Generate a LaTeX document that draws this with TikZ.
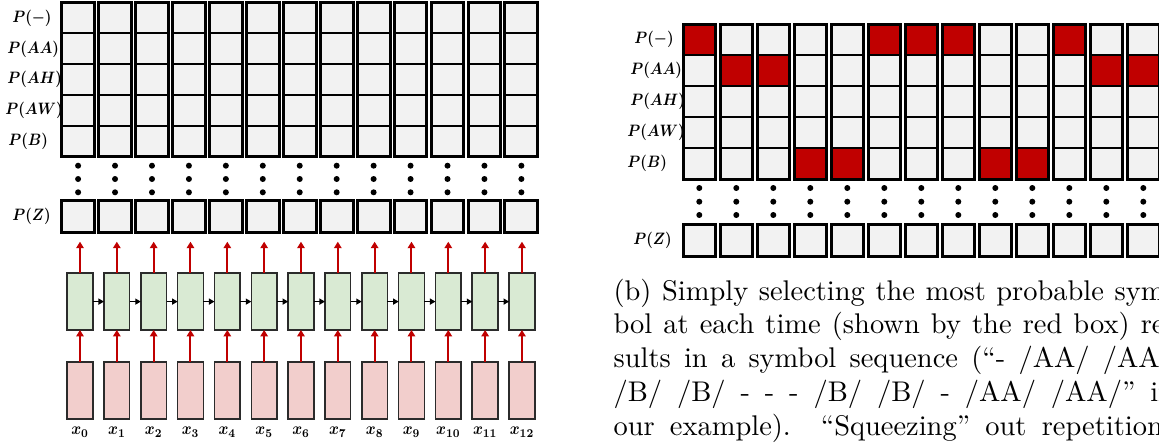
\documentclass[tikz,border=0pt]{standalone}
\usepackage{amsmath}
\usetikzlibrary{arrows.meta}

\definecolor{cellgray}{HTML}{F2F2F2}
\definecolor{pickred}{HTML}{C00000}
\definecolor{rnngreen}{HTML}{D9EAD3}
\definecolor{inpink}{HTML}{F2CECC}
\definecolor{boxedge}{HTML}{2B2B2B}

\tikzset{
  probcell/.style n args={2}{draw=black, line width=2pt, fill=cellgray,
    minimum width=#1, minimum height=#2, inner sep=0pt, outer sep=0pt,
    anchor=north west},
  colframe/.style={draw=black, line width=3pt},
  zcell/.style n args={2}{probcell={#1}{#2}, line width=3pt},
  rnnbox/.style={draw=boxedge, line width=1.6pt, fill=rnngreen,
    minimum width=25.7pt, minimum height=56.7pt, inner sep=0pt, outer sep=0pt},
  inbox/.style={draw=boxedge, line width=1.6pt, fill=inpink,
    minimum width=25.7pt, minimum height=56.7pt, inner sep=0pt, outer sep=0pt},
  upflow/.style={draw=pickred, line width=2pt,
    -{Triangle[length=6.5pt,width=7.5pt]}},
  timeflow/.style={draw=black, line width=1.3pt,
    -{Triangle[length=5.5pt,width=6pt]}},
  dotmark/.style={fill=black},
  rowlabel/.style={anchor=west, inner sep=0pt, xscale=1.47, yscale=1.65,
    font=\fontsize{10}{12}\selectfont},
  xlabel/.style={anchor=base, inner sep=0pt, xscale=1.5, yscale=1.7,
    font=\fontsize{10}{12}\selectfont},
  captiontext/.style={anchor=base west, inner sep=0pt, scale=2.845},
}

\begin{document}
\begin{tikzpicture}[x=1pt, y=-1pt]
\clip (0,0) rectangle (1159,444);

% ---------------- left: network producing per-frame distributions ----------------
\foreach \c in {0,...,12}{
  \pgfmathsetmacro\xx{61.7+36.94*\c}
  \foreach \r in {0,...,4}{
    \pgfmathsetmacro\yy{2.7+30.76*\r}
    \node[probcell={32.8pt}{30.76pt}] (L-\c-\r) at (\xx,\yy) {};
  }
  \draw[colframe] (L-\c-0.north west) rectangle (L-\c-4.south east);
  \foreach \dy in {165.7,179,192.3}{
    \fill[dotmark] (\xx+16.4,\dy) circle (3pt);
  }
  \node[zcell={32.8pt}{32pt}] (LZ-\c) at (\xx,200.7) {};
}

% recurrent cells and inputs
\foreach \c in {0,...,12}{
  \pgfmathsetmacro\cx{80+36.83*\c}
  \node[rnnbox] (G-\c) at (\cx,301.6) {};
  \node[inbox] (I-\c) at (\cx,390.6) {};
  \node[xlabel] (X-\c) at (\cx,434.5) {$\boldsymbol{x_{\c}}$};
  \draw[upflow] (I-\c.north) -- (G-\c.south);
  \draw[upflow, shorten >=9pt] (G-\c.north) -- (G-\c.north |- LZ-\c.south);
}
\foreach \c [evaluate=\c as \n using int(\c+1)] in {0,...,11}{
  \draw[timeflow] (G-\c.east) -- (G-\n.west);
}

% row labels
\node[rowlabel] (LL-0) at (12,18.1)  {$\boldsymbol{P(-)}$};
\node[rowlabel] (LL-1) at (7,48.9)   {$\boldsymbol{P(AA)}$};
\node[rowlabel] (LL-2) at (7,79.6)   {$\boldsymbol{P(AH)}$};
\node[rowlabel] (LL-3) at (5,110.4)  {$\boldsymbol{P(AW)}$};
\node[rowlabel] (LL-4) at (8,141.2)  {$\boldsymbol{P(B)}$};
\node[rowlabel] (LL-Z) at (12,216.7) {$\boldsymbol{P(Z)}$};

% ---------------- right: greedy choice per frame ----------------
\foreach \c/\sel in {0/0,1/1,2/1,3/4,4/4,5/0,6/0,7/0,8/4,9/4,10/0,11/1,12/1}{
  \pgfmathsetmacro\xx{683+37*\c}
  \foreach \r in {0,...,4}{
    \pgfmathsetmacro\yy{24.3+31*\r}
    \ifnum\r=\sel\relax\def\cf{pickred}\else\def\cf{cellgray}\fi
    \node[probcell={32.5pt}{31pt}, fill=\cf] (R-\c-\r) at (\xx,\yy) {};
  }
  \draw[colframe] (R-\c-0.north west) rectangle (R-\c-4.south east);
  \foreach \dy in {188,201.7,215}{
    \fill[dotmark] (\xx+16.3,\dy) circle (3pt);
  }
  \node[zcell={32.5pt}{32pt}] (RZ-\c) at (\xx,224) {};
}

\node[rowlabel] (RL-0) at (634,39.8)  {$\boldsymbol{P(-)}$};
\node[rowlabel] (RL-1) at (630,70.8)  {$\boldsymbol{P(AA)}$};
\node[rowlabel] (RL-2) at (630,101.8) {$\boldsymbol{P(AH)}$};
\node[rowlabel] (RL-3) at (627,132.8) {$\boldsymbol{P(AW)}$};
\node[rowlabel] (RL-4) at (627,163.8) {$\boldsymbol{P(B)}$};
\node[rowlabel] (RL-Z) at (633,240)   {$\boldsymbol{P(Z)}$};

% caption, set at 10pt and enlarged as a whole
\node[captiontext] (cap) at (613,300) {%
  \fontsize{10}{11.95}\selectfont
  \vtop{\hsize=197pt
    \hbox to 197pt{(b) Simply selecting the most probable sym-}
    \hbox to 197pt{bol at each time (shown by the red box) re-}
    \hbox to 197pt{sults in a symbol sequence (``- /AA/ /AA/}
    \hbox to 197pt{/B/ /B/ - - - /B/ /B/ - /AA/ /AA/'' in}
    \hbox to 197pt{our example). ``Squeezing'' out repetitions}
  }};
\end{tikzpicture}
\end{document}
